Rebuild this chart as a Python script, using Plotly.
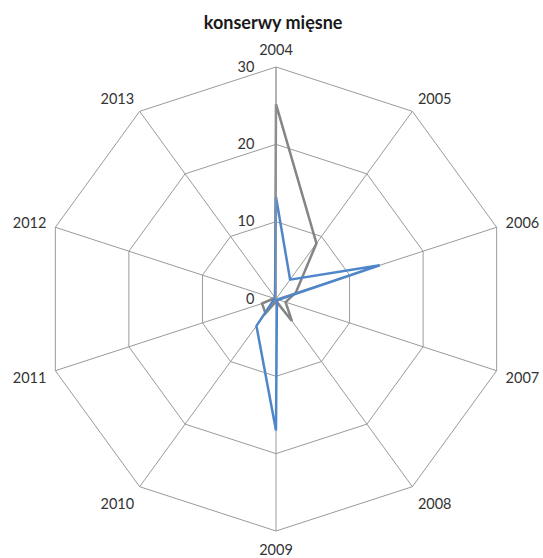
import plotly.graph_objects as go

years = ["2004", "2005", "2006", "2007", "2008", "2009", "2010", "2011", "2012", "2013"]
gray_vals = [25.2, 8.9, 2.7, 1.3, 3.5, 0.3, 2.3, 1.9, 0.3, 0.2]
blue_vals = [13.2, 3.1, 14.1, 0.3, 0.2, 17.0, 4.3, 0.3, 0.2, 0.2]
radial_ticks = [0, 10, 20, 30]

def closed(v):
    return list(v) + [v[0]]

fig = go.Figure()
fig.add_trace(go.Scatterpolar(r=closed(gray_vals), theta=closed(years), mode="lines",
                              line=dict(color="#858585", width=2.5), name="gray"))
fig.add_trace(go.Scatterpolar(r=closed(blue_vals), theta=closed(years), mode="lines",
                              line=dict(color="#4F86C9", width=2.5), name="blue"))

fig.update_layout(
    width=543, height=558,
    margin=dict(l=0, r=0, t=0, b=0),
    paper_bgcolor="white",
    showlegend=False,
    font=dict(family="Lato", color="#333333", size=14),
    title=dict(text="<b>konserwy mięsne</b>", x=0.503, xanchor="center", y=0.96, yanchor="middle",
               font=dict(family="Lato", size=18, color="#1a1a1a")),
    polar=dict(
        domain=dict(x=[44/543, 508/543], y=[1-531/558, 1-67/558]),
        gridshape="linear",
        bgcolor="white",
        angularaxis=dict(type="category", categoryarray=years, rotation=90, direction="clockwise",
                         showline=True, linecolor="#9a9a9a", linewidth=1,
                         gridcolor="#9a9a9a", gridwidth=1,
                         ticks="outside", ticklen=6, tickcolor="rgba(0,0,0,0)",
                         tickfont=dict(size=14.5, color="#333333")),
        radialaxis=dict(range=[0, 30], tickvals=radial_ticks, angle=90, tickangle=90,
                        side="counterclockwise",
                        showline=True, linecolor="#9a9a9a", linewidth=1,
                        gridcolor="#9a9a9a", gridwidth=1,
                        ticks="outside", ticklen=16, tickcolor="rgba(0,0,0,0)",
                        tickfont=dict(size=14.5, color="#333333")),
    ),
)

fig.write_html("out.html", config={"displayModeBar": False},
               post_script="document.body.style.margin='0';")
